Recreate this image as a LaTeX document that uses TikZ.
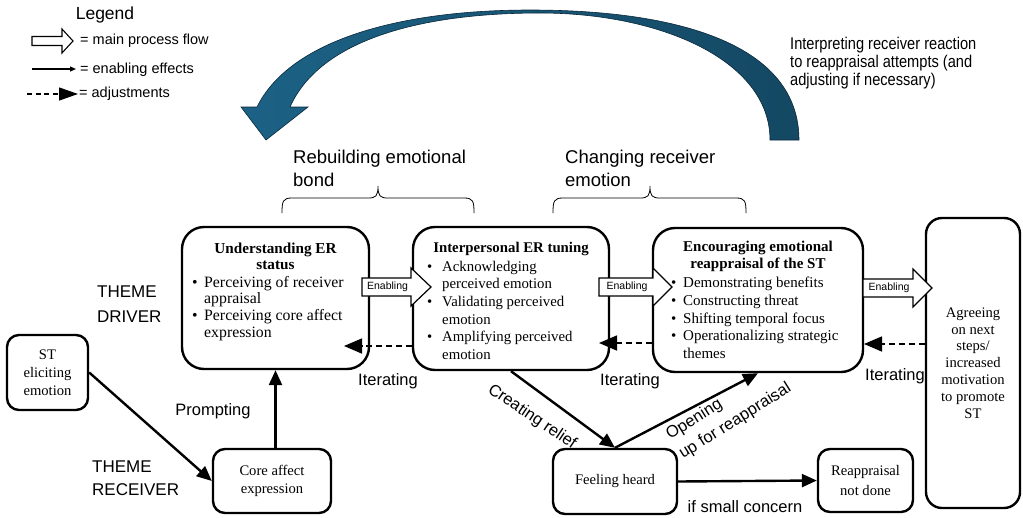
\documentclass[tikz,border=0pt]{standalone}
\usepackage{fontspec}
\setmainfont{Liberation Serif}
\setsansfont{Liberation Sans}
\newfontfamily\narrowsans[FakeStretch=0.86]{Liberation Sans}
\usetikzlibrary{arrows.meta,calc}
\definecolor{arcL}{RGB}{28,98,134}
\definecolor{arcR}{RGB}{20,72,99}
\definecolor{arcE}{RGB}{10,40,58}
\newcommand\myb[2]{\strut\makebox[#1][l]{\textbullet}#2}
\newcommand\myc[2]{\strut\hspace*{#1}#2}
\newcommand\enarrow[5]{%
  \draw[blockarrow] (#2,#5-9) -- (#3,#5-9) -- (#3,#5-19) -- (#4,#5) -- (#3,#5+19) -- (#3,#5+9) -- (#2,#5+9) -- cycle;
  \node[enlabel] (#1) at ({(#2+#3)/2+1},#5) {Enabling};}
\begin{document}
\begin{tikzpicture}[x=1pt,y=-1pt,
  bigbox/.style={draw, line width=2.4pt, rounded corners=22pt, inner sep=0pt},
  smallbox/.style={draw, line width=2.4pt, rounded corners=12pt, inner sep=0pt, align=center},
  conn/.style={line width=2.4pt, -{Triangle[length=15pt,width=13pt]}},
  iter/.style={line width=1.6pt, dash pattern=on 6pt off 4pt, -{Triangle[length=18pt,width=15pt]}},
  blockarrow/.style={draw, line width=1.2pt, fill=white},
  enlabel/.style={font=\sffamily\fontsize{10.5}{12}\selectfont, inner sep=0pt},
  lbl/.style={font=\sffamily\fontsize{16.5}{19}\selectfont, inner sep=0pt},
  legtext/.style={font=\sffamily\fontsize{14.5}{17}\selectfont, inner sep=0pt, anchor=west},
  boxtitle/.style={align=center, inner sep=0pt, anchor=north},
  boxlist/.style={align=left, inner sep=0pt, anchor=north west},
  brace/.style={line width=0.8pt},
]
\fill[white] (0,0) rectangle (1023,517);
\useasboundingbox (0,0) rectangle (1023,517);

% ---------- legend ----------
\node[font=\sffamily\fontsize{17.5}{20}\selectfont, inner sep=0pt] (legend) at (105,15) {Legend};
\draw[blockarrow, line width=1.1pt] (32,36.5) -- (62,36.5) -- (62,29) -- (73,41) -- (62,53) -- (62,45.5) -- (32,45.5) -- cycle;
\node[legtext] (lg1) at (80,41) {= main process flow};
\coordinate (l2a) at (32,69);
\coordinate (l2b) at (76,69);
\draw[line width=1.3pt, -{Triangle[length=6pt,width=5pt]}] (l2a) -- (l2b);
\node[legtext] (lg2) at (80,70) {= enabling effects};
\coordinate (l3a) at (27,94);
\coordinate (l3b) at (78,94);
\draw[line width=1.3pt, dash pattern=on 5pt off 3.5pt, -{Triangle[length=19pt,width=13pt]}] (l3a) -- (l3b);
\node[legtext] (lg3) at (79,94) {= adjustments};

% ---------- big curved arrow ----------
\path[draw=arcE, line width=0.6pt, left color=arcL, right color=arcR]
  (241,107) -- (257,107)
  .. controls (290,40) and (400,10) .. (530,10)
  .. controls (680,10) and (799,45) .. (799,140)
  -- (770,140)
  .. controls (770,60) and (660,13) .. (540,13)
  .. controls (420,13) and (320,40) .. (290,107)
  -- (308,107) -- (266,140) -- cycle;
\node[anchor=north west, align=left, inner sep=0pt, font=\narrowsans\fontsize{17}{18}\selectfont] (note) at (790,36.9)
  {\strut Interpreting receiver reaction\\\strut to reappraisal attempts (and\\\strut adjusting if necessary)};

% ---------- braces ----------
\draw[brace] (282,213) .. controls (282,201) and (283,198) .. (292,198) -- (368,198)
  .. controls (376,198) and (378,196) .. (378,186)
  .. controls (378,196) and (380,198) .. (388,198) -- (464,198)
  .. controls (473,198) and (474,201) .. (474,213);
\draw[brace] (553,213) .. controls (553,201) and (554,198) .. (563,198) -- (640,198)
  .. controls (648,198) and (650,196) .. (650,186)
  .. controls (650,196) and (652,198) .. (660,198) -- (736,198)
  .. controls (745,198) and (746,201) .. (746,213);
\node[anchor=north west, align=left, inner sep=0pt, font=\sffamily\fontsize{18.5}{23}\selectfont] (rb) at (293,147.4)
  {\strut Rebuilding emotional\\\strut bond};
\node[anchor=north west, align=left, inner sep=0pt, font=\sffamily\fontsize{18.5}{23}\selectfont] (ch) at (565,147.4)
  {\strut Changing receiver\\\strut emotion};

% ---------- theme labels ----------
\node[anchor=north west, align=left, inner sep=0pt, font=\sffamily\fontsize{17}{25.5}\selectfont] (thd) at (97,279)
  {\strut THEME\\\strut DRIVER};
\node[anchor=north west, align=left, inner sep=0pt, font=\sffamily\fontsize{17}{23}\selectfont] (thr) at (92,455.9)
  {\strut THEME\\\strut RECEIVER};

% ---------- main boxes ----------
\node[bigbox, minimum width=187pt, minimum height=142pt] (b1) at (275.5,298) {};
\node[boxtitle, font=\fontsize{15.2}{16}\selectfont\bfseries] (b1t) at (275.5,241.8) {\strut Understanding ER\\\strut status};
\node[boxlist, font=\fontsize{15.8}{16.7}\selectfont] (b1l) at (192,275.3) {\myb{12pt}{Perceiving of receiver}\\\myc{12pt}{appraisal}\\\myb{12pt}{Perceiving core affect}\\\myc{12pt}{expression}};

\node[bigbox, minimum width=196pt, minimum height=143pt] (b2) at (511,298.5) {};
\node[boxtitle, font=\fontsize{14.8}{17.6}\selectfont\bfseries] (b2t) at (511,239.7) {\strut Interpersonal ER tuning};
\node[boxlist, font=\fontsize{14.8}{17.6}\selectfont] (b2l) at (427,258.7) {\myb{15pt}{Acknowledging}\\\myc{15pt}{perceived emotion}\\\myb{15pt}{Validating perceived}\\\myc{15pt}{emotion}\\\myb{15pt}{Amplifying perceived}\\\myc{15pt}{emotion}};

\node[bigbox, minimum width=210pt, minimum height=144pt] (b3) at (758,300) {};
\node[boxtitle, font=\fontsize{15}{17.7}\selectfont\bfseries] (b3t) at (758,238.6) {\strut Encouraging emotional\\\strut reappraisal of the ST};
\node[boxlist, font=\fontsize{15}{17.7}\selectfont] (b3l) at (671,275.1) {\myb{12pt}{Demonstrating benefits}\\\myb{12pt}{Constructing threat}\\\myb{12pt}{Shifting temporal focus}\\\myb{12pt}{Operationalizing strategic}\\\myc{12pt}{themes}};

\node[smallbox, rounded corners=16pt, minimum width=94pt, minimum height=290pt, font=\fontsize{14.6}{16.8}\selectfont] (b4) at (973,363)
  {Agreeing\\on next\\steps/\\increased\\motivation\\to promote\\ST};

% ---------- small boxes ----------
\node[smallbox, minimum width=81pt, minimum height=75pt, font=\fontsize{14.6}{18}\selectfont] (st) at (47.5,372.5) {ST\\eliciting\\emotion};
\node[smallbox, minimum width=118pt, minimum height=64pt, font=\fontsize{14.6}{18.5}\selectfont] (ca) at (272,481) {Core affect\\expression};
\node[smallbox, minimum width=124pt, minimum height=65pt, font=\fontsize{14.6}{18.5}\selectfont] (fh) at (615,481.5) {Feeling heard};
\node[smallbox, minimum width=95pt, minimum height=63pt, font=\fontsize{14.6}{20}\selectfont] (rn) at (865.5,480.5) {Reappraisal\\not done};

% ---------- enabling block arrows ----------
\enarrow{e1}{362}{411}{431}{287}
\enarrow{e2}{599}{653}{672}{287}
\enarrow{e3}{863}{913}{932}{288}

% ---------- iterating dashed arrows ----------
\coordinate (i1) at (344,346);
\coordinate (i2) at (599,343);
\coordinate (i3) at (864,344);
\draw[iter] (b2.west |- i1) -- (i1);
\draw[iter] (b3.west |- i2) -- (i2);
\draw[iter] (b4.west |- i3) -- (i3);
\node[lbl] (it1) at (388,381) {Iterating};
\node[lbl] (it2) at (630,381) {Iterating};
\node[lbl] (it3) at (895,376) {Iterating};

% ---------- solid connectors ----------
\draw[conn] (st.east) -- (ca.west);
\draw[conn] (ca.north -| b1.south) -- (b1.south);
\draw[conn] (b2.south) -- (fh.north);
\draw[conn] (fh.north) -- (b3.south);
\draw[conn] (fh.east) -- (rn.west);

\node[lbl] (pr) at (213,411) {Prompting};
\node[lbl] (sm) at (745,507) {if small concern};
\node[lbl, rotate=-34, anchor=base west] (cr) at (487,392) {Creating relief};
\node[lbl, rotate=32, anchor=base west] (op1) at (670,440) {Opening};
\node[lbl, rotate=32, anchor=base west] (op2) at (683,459) {up for reappraisal};
\end{tikzpicture}
\end{document}
